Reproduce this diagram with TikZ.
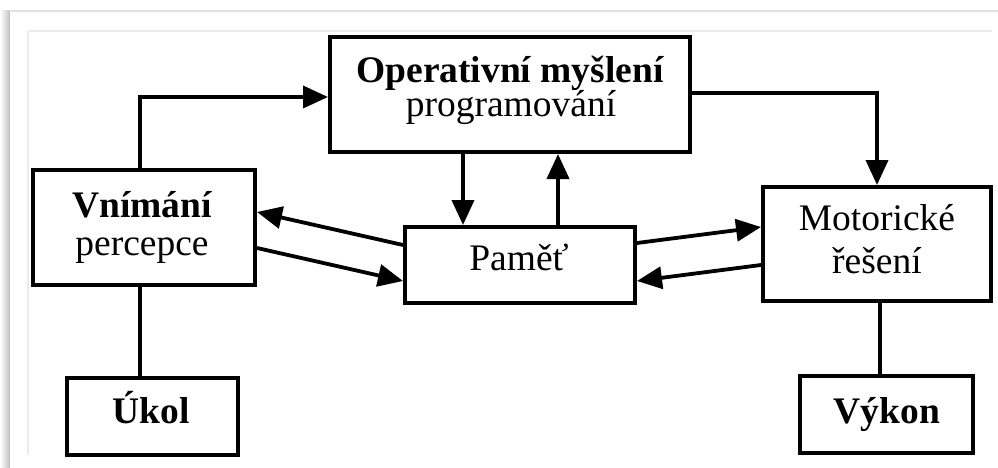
\documentclass[tikz,border=0pt]{standalone}
\usepackage{fontspec}
\setmainfont{Liberation Serif}
\usetikzlibrary{arrows.meta}

\tikzset{
  box/.style={draw=black, line width=4pt, fill=white, inner sep=0pt},
  lbl/.style={anchor=base, inner sep=0pt, font=\fontsize{37.5}{40}\selectfont},
  blbl/.style={lbl, font=\fontsize{37.5}{40}\selectfont\bfseries},
  arr/.style={line width=3.8pt, -{Triangle[length=25pt,width=22pt]}},
  link/.style={line width=3.8pt},
  framepen/.style={draw=black!12, line width=1.6pt}
}

\begin{document}
\begin{tikzpicture}[x=1pt, y=-1pt]
  \useasboundingbox (0,0) rectangle (998,468);
  \fill[white] (0,0) rectangle (998,468);

  % soft card border
  \fill[left color=white, right color=black!22] (0,11) rectangle (9,468);
  \draw[black!25, line width=1.5pt] (9.5,11) -- (9.5,468);
  \draw[framepen] (9.5,11) -- (998,11);
  \draw[black!8, line width=1.4pt] (28,31) -- (992,31);
  \draw[black!8, line width=1.4pt] (28,31) -- (28,455);

  % boxes
  \node[box, minimum width=360pt, minimum height=115pt] (op) at (510,94.5) {};
  \node[box, minimum width=222pt, minimum height=115pt] (vn) at (144,227.5) {};
  \node[box, minimum width=230pt, minimum height=76pt]  (pa) at (520,265) {};
  \node[box, minimum width=228pt, minimum height=114pt] (mo) at (877,244) {};
  \node[box, minimum width=171pt, minimum height=77pt]  (uk) at (152.5,416.5) {};
  \node[box, minimum width=173pt, minimum height=77pt]  (vy) at (886.5,414.5) {};

  % labels
  \node[blbl] (opA) at (510,83)  {Operativní myšlení};
  \node[lbl]  (opB) at (511,117) {programování};
  \node[blbl] (vnA) at (142,217) {Vnímání};
  \node[lbl]  (vnB) at (142,255) {percepce};
  \node[lbl]  (paA) at (519,270) {Paměť};
  \node[lbl]  (moA) at (877,230) {Motorické};
  \node[lbl]  (moB) at (877,273) {řešení};
  \node[blbl] (ukA) at (151,423) {Úkol};
  \node[blbl] (vyA) at (887,423) {Výkon};

  % connectors
  \draw[arr] ([xshift=-4pt]vn.north) |- ([yshift=-2.5pt]op.west);
  \draw[arr] ([yshift=1.5pt]op.east) -| (mo.north);
  \draw[arr] ([xshift=-47pt]op.south) -- ([xshift=-57pt]pa.north);
  \draw[arr] ([xshift=38pt]pa.north) -- ([xshift=48pt]op.south);
  \draw[arr] ([yshift=20pt]pa.west) -- ([yshift=15.5pt]vn.east);
  \draw[arr] ([yshift=-20.5pt]vn.east) -- ([yshift=-16pt]pa.west);
  \draw[arr] ([yshift=22pt]pa.east) -- ([yshift=17pt]mo.west);
  \draw[arr] ([yshift=-21pt]mo.west) -- ([yshift=-16pt]pa.east);
  \draw[link] ([xshift=-4pt]vn.south) -- ([xshift=-12.5pt]uk.north);
  \draw[link] ([xshift=3pt]mo.south) -- ([xshift=-6.5pt]vy.north);
\end{tikzpicture}
\end{document}
